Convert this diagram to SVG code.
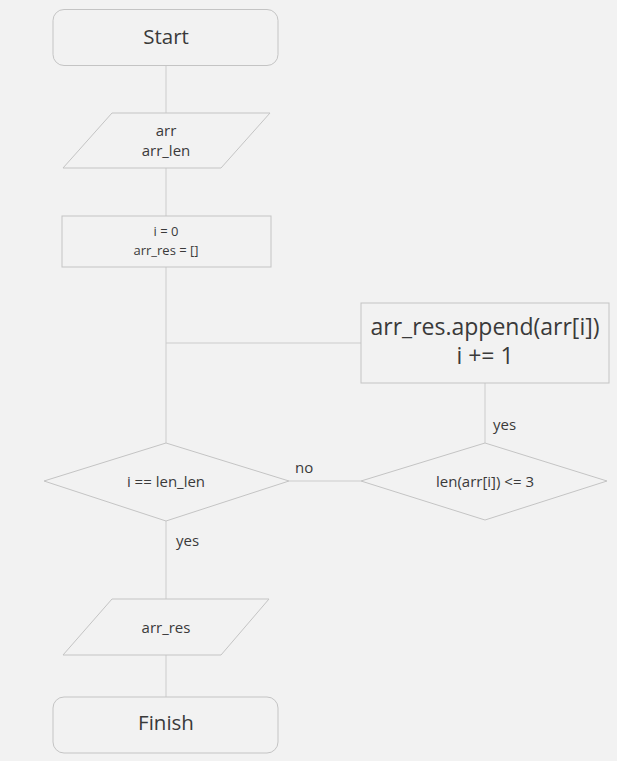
<svg xmlns="http://www.w3.org/2000/svg" width="617" height="761" viewBox="0 0 617 761">
<style>
.shape{fill:#f2f2f2;stroke:#c4c4c4;stroke-width:1}
.edge{fill:none;stroke:#cccccc;stroke-width:1}
text{font-family:"Open Sans","Noto Sans","DejaVu Sans",sans-serif;fill:#3a3a3a;text-anchor:middle;dominant-baseline:central}
.lbl{text-anchor:start;font-size:15px}
</style>
<rect width="617" height="761" fill="#f2f2f2"/>
<g id="connectors">
<line class="edge" x1="166" y1="65" x2="166" y2="113"/>
<line class="edge" x1="166" y1="168" x2="166" y2="216"/>
<line class="edge" x1="166" y1="267" x2="166" y2="443"/>
<line class="edge" x1="166" y1="343" x2="361" y2="343"/>
<line class="edge" x1="485" y1="383" x2="485" y2="443"/>
<line class="edge" x1="289" y1="481" x2="361" y2="481"/>
<line class="edge" x1="166" y1="521" x2="166" y2="599"/>
<line class="edge" x1="166" y1="655" x2="166" y2="697"/>
<text class="lbl" x="493" y="424">yes</text>
<text class="lbl" x="295" y="467">no</text>
<text class="lbl" x="176" y="540">yes</text>
</g>
<g id="start">
<rect class="shape" x="53" y="9.5" width="225" height="56" rx="11"/>
<text x="166" y="36" font-size="20.5">Start</text>
</g>
<g id="input">
<polygon class="shape" points="112,113 270,113 221,168 63,168"/>
<text x="166" y="130" font-size="15">arr</text>
<text x="166" y="150" font-size="15">arr_len</text>
</g>
<g id="init">
<rect class="shape" x="62" y="216" width="209" height="51"/>
<text x="166" y="231" font-size="13">i = 0</text>
<text x="166" y="250" font-size="13">arr_res = []</text>
</g>
<g id="append">
<rect class="shape" x="361" y="303" width="248" height="80"/>
<text x="485" y="326" font-size="23">arr_res.append(arr[i])</text>
<text x="485" y="355" font-size="23">i += 1</text>
</g>
<g id="cond1">
<polygon class="shape" points="166,443 289,481 166,521 44,481"/>
<text x="166" y="481" font-size="15">i == len_len</text>
</g>
<g id="cond2">
<polygon class="shape" points="485,443 607,481 485,520 361,481"/>
<text x="485" y="481" font-size="15">len(arr[i]) &lt;= 3</text>
</g>
<g id="output">
<polygon class="shape" points="112,599 269,599 221,655 63,655"/>
<text x="166" y="627" font-size="15">arr_res</text>
</g>
<g id="finish">
<rect class="shape" x="53" y="697" width="225" height="56" rx="11"/>
<text x="166" y="722" font-size="20.5">Finish</text>
</g>
</svg>
